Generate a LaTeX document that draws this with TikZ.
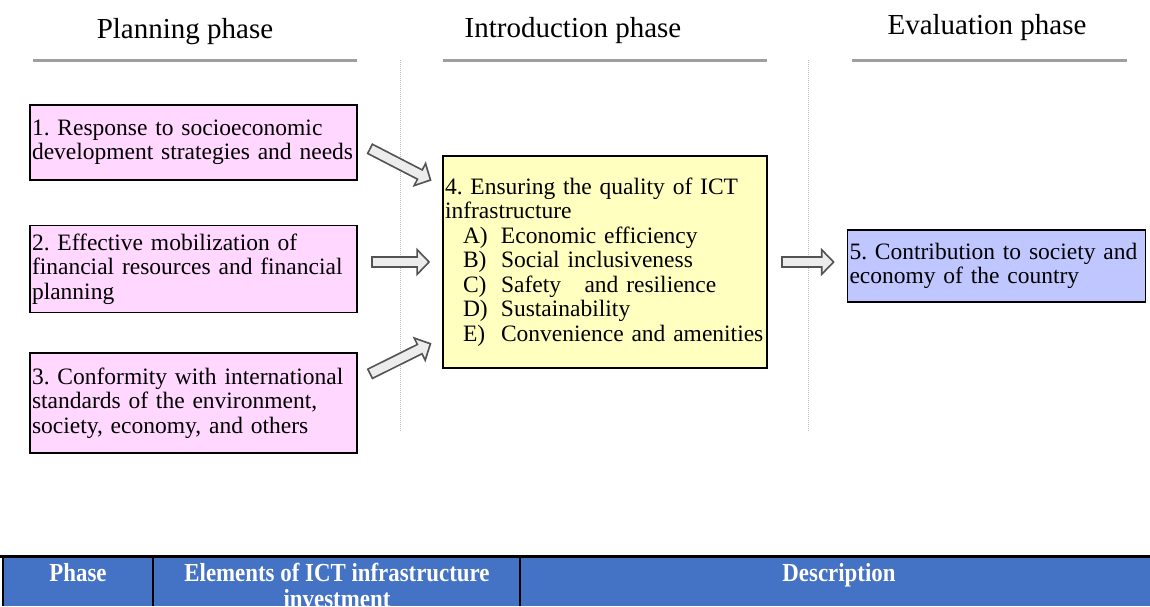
\documentclass[tikz,border=0pt]{standalone}
\usepackage{fontspec}
\setmainfont{Liberation Serif}
\newfontfamily\condensed[FakeStretch=0.88]{Liberation Serif}
\usetikzlibrary{arrows.meta,positioning,calc}
\definecolor{pinkbox}{RGB}{255,215,255}
\definecolor{yellowbox}{RGB}{255,255,192}
\definecolor{bluebox}{RGB}{192,198,255}
\definecolor{headblue}{RGB}{68,114,196}
\newcommand{\elem}[2]{\hspace*{18pt}\makebox[38pt][l]{#1}#2}
\frenchspacing
\tikzset{ 
    element/.style={
        rectangle,
        draw=black,
        line width=1.5pt,
        inner xsep=2pt,
        inner ysep=0pt,
        align=left,
        font=\fontsize{23.5}{24.5}\selectfont,
    },
    phase/.style={
        font=\fontsize{29}{32}\selectfont,
    },
    rule/.style={
        line width=3pt,
        draw=gray!75,
    },
    separator/.style={
        densely dotted,
        draw=gray!55,
        line width=1pt,
    },
    hollow/.style={
        line width=12pt,
        draw=gray!65!black,
        -{Triangle[length=14pt,width=28pt]},
        shorten <=13pt,
        shorten >=12pt,
        postaction={draw=gray!15, line width=8.5pt,
            -{Triangle[length=9.75pt,width=19.5pt]},
            shorten <=14.75pt, shorten >=14.5pt},
    },
    header/.style={
        anchor=north,
        inner sep=0pt,
        text=white,
        align=center,
        font=\condensed\bfseries\fontsize{26}{26}\selectfont,
    },
}
\begin{document}
\begin{tikzpicture}[x=1pt,y=-1pt,node distance=44pt and 86pt]
    \useasboundingbox (0,0) rectangle (1150,606);
    % phases
    \node [phase] (plan) at (185,32) {Planning phase};
    \node [phase] (intro) at (573,31) {Introduction phase};
    \node [phase] (eval) at (987,28) {Evaluation phase};
    \draw [rule] (33,60) -- (357,60);
    \draw [rule] (443,60) -- (767,60);
    \draw [rule] (852,60) -- (1127,60);
    \draw [separator] (400,60) -- (400,432);
    \draw [separator] (808,60) -- (808,432);
    % elements
    \node [element, fill=pinkbox, text width=323pt, minimum height=75pt] (b1) at (193.5,142.5)
        {1. Response to socioeconomic\\development strategies and needs};
    \node [element, fill=pinkbox, text width=323pt, minimum height=87pt] (b2) [below=of b1]
        {2. Effective mobilization of\\financial resources and financial\\planning};
    \node [element, fill=pinkbox, text width=323pt, minimum height=100pt] (b3) [below=39pt of b2]
        {3. Conformity with international\\standards of the environment,\\society, economy, and others};
    \node [element, fill=yellowbox, text width=320pt, minimum height=212pt] (b4) at (605,262)
        {4. Ensuring the quality of ICT\\infrastructure\\
         \elem{A)}{Economic efficiency}\\
         \elem{B)}{Social inclusiveness}\\
         \elem{C)}{Safety~~ and resilience}\\
         \elem{D)}{Sustainability}\\
         \elem{E)}{Convenience and amenities}};
    \node [element, fill=bluebox, text width=294pt, minimum height=72pt] (b5) [right=79pt of b4, yshift=-4pt]
        {5. Contribution to society and\\economy of the country};
    \draw [hollow] (b1.east) -- (b4.155);
    \draw [hollow] (b2.east |- b4.west) -- (b4.west);
    \draw [hollow] (b3.8) -- (b4.205);
    \draw [hollow] (b4.east) -- (b4.east -| b5.west);
    % table header
    \fill [headblue] (3,557) rectangle (1150,606);
    \draw [line width=3pt] (0,556) -- (1150,556);
    \draw [line width=2pt] (3,556) -- (3,606);
    \draw [line width=1.5pt] (153,556) -- (153,606) (520,556) -- (520,606);
    \node [header] (phasecol) at (78,563) {Phase};
    \node [header] (elemcol) at (337,563) {Elements of ICT infrastructure\\investment};
    \node [header] (desccol) at (839,563) {Description};
\end{tikzpicture}
\end{document}
